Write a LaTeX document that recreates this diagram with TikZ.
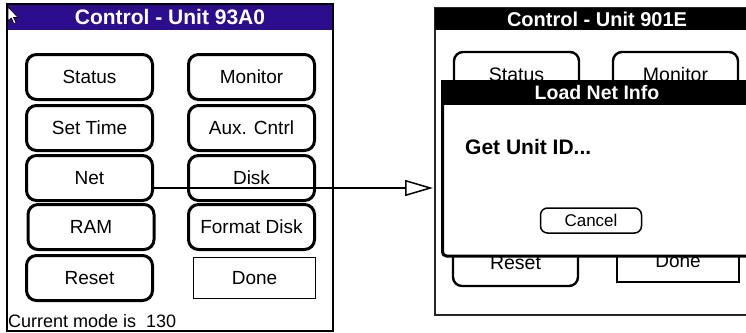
\documentclass[tikz,border=0pt]{standalone}
\usepackage{fontspec}
\setmainfont{Liberation Sans}
\usetikzlibrary{arrows.meta,calc}
\definecolor{palmblue}{RGB}{44,14,140}
\begin{document}
\begin{tikzpicture}[x=1pt,y=-1pt,
  btn/.style={draw, line width=3pt, rounded corners=10pt, minimum width=126pt, minimum height=45pt, inner sep=0pt, font=\fontsize{19}{22}\selectfont},
  btnb/.style={draw, line width=2.4pt, rounded corners=9pt, minimum width=125pt, minimum height=46pt, inner sep=0pt, font=\fontsize{19.5}{22}\selectfont},
  plainbox/.style={draw, line width=1.5pt, inner sep=0pt, font=\fontsize{19}{22}\selectfont},
  ttl/.style={text=white, inner sep=0pt, font=\bfseries\fontsize{21}{24}\selectfont},
  lbl/.style={inner sep=0pt, font=\fontsize{18}{20}\selectfont},
  conn/.style={line width=1.5pt, -{Triangle[open,length=28pt,width=16pt]}}
]
\useasboundingbox (0,0) rectangle (746,332);
\begin{scope}
\clip (0,0) rectangle (746,332);
% ---------------- left screen
\fill[white] (7,4) rectangle (333,331);
\fill[palmblue] (7,4) rectangle (333,30);
\draw[line width=1.2pt] (7,4) rectangle (333,331);
\node[ttl] (t1) at (170,17.5) {Control - Unit 93A0};
% cursor
\filldraw[fill=white, draw=black, line width=0.6pt] (8,7) -- (8,21) -- (11.5,18) -- (14,24) -- (16,23) -- (13.5,17.5) -- (18,17.5) -- cycle;
\node[btn] (status) at (89.5,77) {Status};
\node[btn] (monitor) at (251.5,77) {Monitor};
\node[btn] (settime) at (89.5,128) {Set Time};
\node[btn] (aux) at (251.5,128) {Aux. Cntrl};
\node[btn] (net) at (89.5,178) {Net};
\node[btn] (disk) at (251.5,178) {Disk};
\node[btn] (ram) at (91,227) {RAM};
\node[btn] (format) at (251.5,227) {Format Disk};
\node[btn] (reset) at (89.5,278) {Reset};
\node[plainbox, minimum width=122pt, minimum height=41pt] (done) at (254.5,278) {Done};
\node[lbl, anchor=west] (mode) at (8,321) {Current mode is\ \ 130};
% ---------------- right screen
\fill[white] (435,8) rectangle (780,315);
\draw[line width=1.4pt, black!85] (780,8) -- (435,8) -- (435,315) -- (780,315);
\fill[black] (435,8) rectangle (780,30);
\node[ttl, font=\bfseries\fontsize{20}{22}\selectfont] (t2) at (597,19.5) {Control - Unit 901E};
\node[btnb] (status2) at (516.5,75) {Status};
\node[btnb] (monitor2) at (675.5,75) {Monitor};
\node[btnb] (reset2) at (515.5,263) {Reset};
\node[plainbox, minimum width=122pt, minimum height=42pt] (done2) at (678,261) {Done};
% dialog
\draw[fill=white, line width=3pt, rounded corners=4pt] (790,81.5) -- (442.5,81.5) -- (442.5,256) -- (790,256);
\fill[black] (441,80) rectangle (790,105);
\node[ttl, font=\bfseries\fontsize{19.5}{22}\selectfont] (t3) at (597,92.5) {Load Net Info};
\node[inner sep=0pt, anchor=west, font=\bfseries\fontsize{21}{24}\selectfont] (getid) at (465,147) {Get Unit ID...};
\node[draw, line width=1.5pt, rounded corners=7pt, minimum width=101pt, minimum height=25pt, inner sep=0pt, font=\fontsize{17}{20}\selectfont] (cancel) at (591,220.5) {Cancel};
% ---------------- connector
\coordinate (arrS) at ($(net.east)+(0,10)$);
\coordinate (arrE) at (433,188);
\draw[conn] (arrS) -- (arrE);
\end{scope}
\end{tikzpicture}
\end{document}
